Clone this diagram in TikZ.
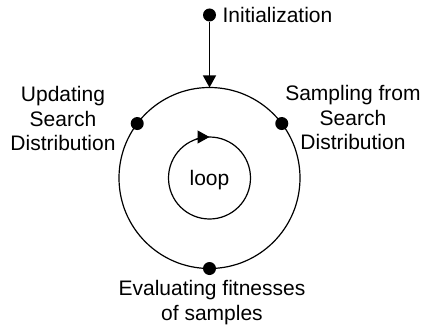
\documentclass[tikz,border=0pt]{standalone}
\usepackage{fontspec}
\setmainfont{Liberation Sans}
\usetikzlibrary{arrows.meta}
\begin{document}
\begin{tikzpicture}[x=1pt,y=1pt,line width=1.2pt,>={Triangle[length=12pt,width=13pt]},
	dot/.style={circle,fill=black,inner sep=0pt,minimum size=13pt},
	lbl/.style={inner sep=0pt,align=center,font=\fontsize{21}{24.5}\selectfont}]
	\useasboundingbox (-209.5,-146) rectangle (212.5,178);
	% outer cycle and inner loop
	\draw (0,0) circle(90.5);
	\draw (0,0) circle(41);
	\draw[->] (110:41) arc(110:90:41);
	\node[lbl,anchor=base] (loop) at (0,-7) {loop};
	% entry point
	\node[dot] (init) at (0,163) {};
	\coordinate (top) at (90:90.5);
	\draw[->] (init)--(top);
	\node[lbl,anchor=base west] (initlbl) at (12.5,155) {Initialization};
	% stages on the cycle
	\node[dot] (sample) at (37:90.5) {};
	\node[dot] (update) at (143:90.5) {};
	\node[dot] (eval) at (270:90.5) {};
	\node[lbl,anchor=north] (samplelbl) at (143.5,93.3) {Sampling from\\Search\\Distribution};
	\node[lbl,anchor=north] (updatelbl) at (-146.5,92.3) {Updating\\Search\\Distribution};
	\node[lbl,anchor=north] (evallbl) at (2.5,-101.7) {Evaluating fitnesses\\of samples};
\end{tikzpicture}
\end{document}
